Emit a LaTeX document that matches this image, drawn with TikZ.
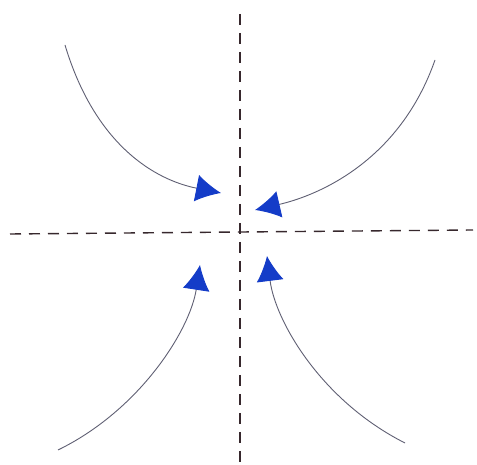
\documentclass[tikz,border=0pt]{standalone}
\usepackage{xcolor}
\usepackage{tikz}
\usetikzlibrary{arrows.meta}
\definecolor{flowblue}{RGB}{20,60,200}
\definecolor{flowgray}{RGB}{95,95,115}
\definecolor{axisdark}{RGB}{55,40,45}
\tikzset{
  axisline/.style={
    draw=axisdark,
    line width=1.4pt,
    dash pattern=on 11pt off 8pt
  },
  flowline/.style={
    draw=flowgray,
    line width=0.9pt,
    -{Latex[length=25pt,width=27pt,fill=flowblue,color=flowblue]}
  }
}
\begin{document}
\begin{tikzpicture}[x=1pt,y=1pt]
  \useasboundingbox (0,0) rectangle (477,465);

  % axes
  \coordinate (vtop) at (240,451);
  \coordinate (vbot) at (240,2);
  \coordinate (hleft) at (10,231);
  \coordinate (hright) at (473,235);
  \draw[axisline] (vtop) -- (vbot);
  \draw[axisline] (hleft) -- (hright);

  % incoming trajectories
  \coordinate (tlstart) at (65,420);
  \coordinate (tlend) at (221,272);
  \coordinate (trstart) at (435,405);
  \coordinate (trend) at (255,255);
  \coordinate (blstart) at (58,15);
  \coordinate (blend) at (200,200);
  \coordinate (brstart) at (405,22);
  \coordinate (brend) at (267,209);

  \draw[flowline] (tlstart) .. controls (95,320) and (155,285) .. (tlend);
  \draw[flowline] (trstart) .. controls (400,305) and (320,270) .. (trend);
  \draw[flowline] (blstart) .. controls (140,55) and (190,135) .. (blend);
  \draw[flowline] (brstart) .. controls (320,65) and (275,145) .. (brend);
\end{tikzpicture}
\end{document}
